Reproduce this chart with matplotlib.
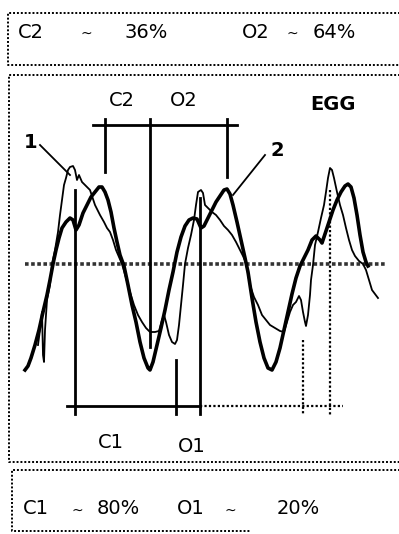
from matplotlib import pyplot as plt

# Trace 1 (thin, noisy) - time and amplitude (arbitrary units, 0 = baseline)
t1 = [38, 40, 42, 43, 44, 45, 47, 50, 52, 55, 58, 60, 62, 64, 66, 68, 70, 73, 75, 77,
      79, 82, 86, 90, 95, 100, 104, 107, 110, 113, 116, 119, 122, 126, 130, 134, 138, 142, 146, 150,
      155, 159, 162, 164, 166, 169, 172, 175, 177, 179, 181, 183, 185, 188, 191, 194, 196, 198, 201, 203,
      205, 208, 212, 216, 220, 224, 228, 232, 236, 240, 243, 246, 250, 254, 258, 262, 266, 270, 275, 280,
      284, 287, 290, 293, 296, 299, 301, 303, 305, 306, 308, 310, 311, 313, 315, 318, 321, 324, 326, 328,
      330, 332, 334, 337, 340, 343, 346, 349, 352, 355, 359, 363, 366, 369, 372, 375, 378]
a1 = [-81, -66, -48, -91, -98, -66, -36, -21, 0, 14, 32, 49, 64, 79, 86, 94, 97, 98, 94, 84,
      89, 82, 78, 74, 59, 49, 42, 36, 32, 24, 14, 7, 0, -14, -28, -41, -51, -58, -64, -68,
      -68, -67, -56, -51, -58, -71, -78, -80, -76, -61, -41, -21, 0, 16, 29, 44, 59, 72, 74, 71,
      59, 56, 52, 49, 44, 38, 34, 29, 22, 14, 8, 1, -21, -33, -41, -51, -56, -61, -64, -67,
      -68, -58, -48, -41, -38, -32, -36, -48, -58, -62, -51, -31, -16, -1, 19, 32, 46, 59, 72, 86,
      96, 94, 86, 72, 59, 49, 36, 24, 14, 8, 3, 0, -6, -16, -26, -30, -34]

# Trace 2 (thick, smooth)
t2 = [25, 28, 31, 35, 39, 43, 47, 50, 53, 56, 59, 62, 66, 70, 73, 76, 79, 83, 87, 91,
      95, 99, 102, 105, 108, 111, 114, 117, 120, 124, 128, 132, 136, 140, 144, 148, 150, 153, 157, 161,
      165, 169, 173, 177, 181, 185, 189, 193, 197, 201, 204, 208, 212, 216, 220, 224, 227, 230, 233, 237,
      241, 245, 248, 252, 256, 260, 264, 268, 272, 276, 280, 284, 288, 292, 296, 300, 304, 308, 312, 316,
      320, 322, 325, 329, 333, 337, 341, 345, 348, 351, 354, 357, 360, 363, 366, 368]
a2 = [-106, -102, -94, -81, -66, -48, -31, -16, 0, 14, 26, 36, 42, 46, 44, 34, 39, 51, 59, 67,
      72, 77, 77, 72, 64, 52, 36, 22, 9, -2, -21, -41, -58, -78, -94, -104, -106, -98, -81, -64,
      -46, -26, -8, 12, 27, 38, 44, 46, 45, 36, 38, 46, 54, 62, 68, 74, 75, 70, 59, 42,
      24, 6, -8, -34, -58, -78, -94, -104, -106, -98, -84, -66, -48, -30, -14, -2, 6, 14, 24, 28,
      24, 21, 30, 42, 54, 64, 72, 78, 80, 77, 66, 49, 29, 12, 2, -2]

# Segment markers (times)
c2_o2_marks = [105, 150, 227]      # C2 peak, boundary, O2 peak
c1_o1_marks = [75, 176, 200]       # C1 start, C1 end, O1 end
next_marks = [303, 330]            # dotted markers of next cycle

summary_top = ["C2", "~", "36%", "O2", "~", "64%"]
summary_bottom = ["C1", "~", "80%", "O1", "~", "20%"]

DOT = (0, (1, 1))

fig = plt.figure(figsize=(3.99, 5.34), dpi=100)
ax = fig.add_axes([0, 0, 1, 1])
ax.set_xlim(0, 399)
ax.set_ylim(-270, 264)
ax.axis('off')

# Dotted frames
def frame(x0, x1, y0, y1, bottom_end=None):
    ax.plot([x1, x0, x0, bottom_end or x1], [y1, y1, y0, y0], color='black', lw=1.4, ls=DOT)

frame(8, 410, 199, 251)
frame(9, 410, -198, 189)
frame(12, 410, -267, -206, bottom_end=250)

# Summary texts
def summary(labels, xs, y):
    for s, x in zip(labels, xs):
        if s == '~':
            ax.text(x, y - 2, s, fontsize=10, ha='center', va='center')
        else:
            ax.text(x, y, s, fontsize=14, ha='left', va='center')

summary(summary_top, [18, 86, 125, 242, 292, 313], 232)
summary(summary_bottom, [23, 77, 97, 177, 230, 277], -245)

# Baseline
ax.plot([25, 386], [0, 0], color='#333333', lw=2.6, ls=(0, (1, 0.7)))

# Traces
ax.plot(t1, a1, color='black', lw=1.3)
ax.plot(t2, a2, color='black', lw=2.6)

# Upper bracket (C2 / O2)
ax.plot([93, 237], [139, 139], color='black', lw=2)
ax.plot([c2_o2_marks[0]] * 2, [145, 92], color='black', lw=2)
ax.plot([c2_o2_marks[1]] * 2, [145, -83], color='black', lw=2)
ax.plot([c2_o2_marks[2]] * 2, [145, 87], color='black', lw=2)

# Lower bracket (C1 / O1)
ax.plot([67, 200], [-142, -142], color='black', lw=2)
ax.plot([200, 343], [-142, -142], color='black', lw=1.6, ls=DOT)
ax.plot([c1_o1_marks[0]] * 2, [74, -150], color='black', lw=2)
ax.plot([c1_o1_marks[1]] * 2, [-96, -150], color='black', lw=2)
ax.plot([c1_o1_marks[2]] * 2, [66, -150], color='black', lw=2)
ax.plot([next_marks[0]] * 2, [-76, -151], color='black', lw=1.6, ls=DOT)
ax.plot([next_marks[1]] * 2, [74, -151], color='black', lw=1.6, ls=DOT)

# Labels
ax.text(122, 163, "C2", fontsize=14, ha='center', va='center')
ax.text(184, 163, "O2", fontsize=14, ha='center', va='center')
ax.text(333, 160, "EGG", fontsize=14, fontweight='bold', ha='center', va='center')
ax.text(111, -178, "C1", fontsize=14, ha='center', va='center')
ax.text(192, -183, "O1", fontsize=14, ha='center', va='center')
ax.text(31, 121, "1", fontsize=14, fontweight='bold', ha='center', va='center')
ax.text(277, 114, "2", fontsize=14, fontweight='bold', ha='center', va='center')
ax.plot([40, 70], [119, 89], color='black', lw=1.3)
ax.plot([265, 233], [109, 69], color='black', lw=1.3)

fig.savefig('out.png', dpi=100)
